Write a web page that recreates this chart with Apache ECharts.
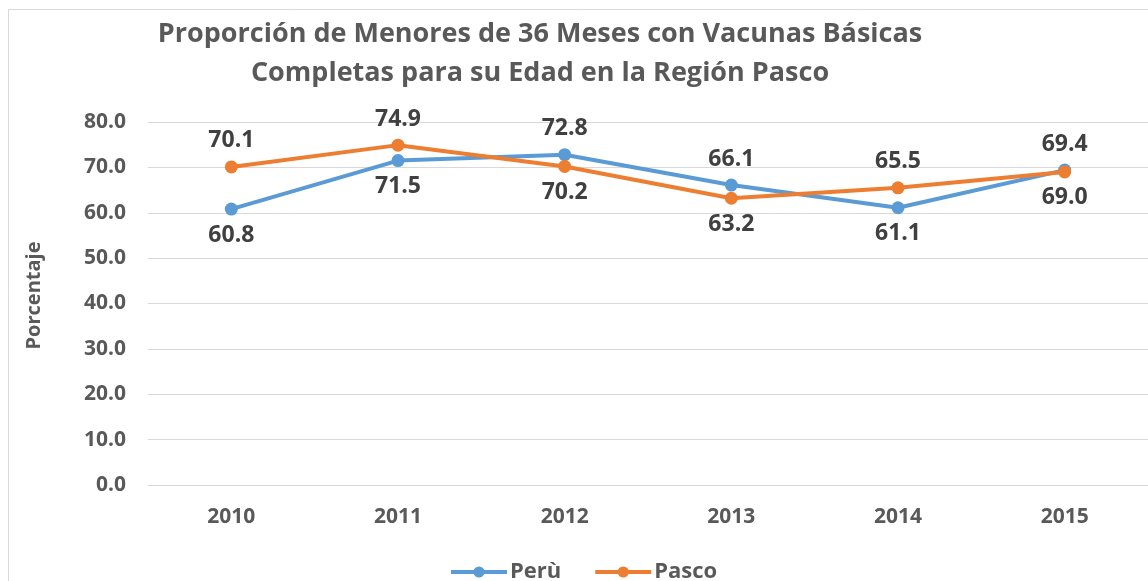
<!DOCTYPE html>
<html>
<head>
<meta charset="utf-8">
<script src="https://cdn.jsdelivr.net/npm/echarts@6/dist/echarts.min.js"></script>
<style>
  html, body { margin: 0; padding: 0; background: #fff; }
  #chart { width: 1148px; height: 581px; }
</style>
</head>
<body>
<div id="chart"></div>
<script>
// datos
var years = ['2010', '2011', '2012', '2013', '2014', '2015'];
var peru = [60.8, 71.5, 72.8, 66.1, 61.1, 69.4];
var pasco = [70.1, 74.9, 70.2, 63.2, 65.5, 69.0];

var FONT = '"Open Sans", Lato, sans-serif';

/** etiqueta arriba si la serie esta por encima de la otra */
function withLabels(values, other) {
    var out = [];
    for (var i = 0; i < values.length; i++) {
        out.push({
            value: values[i],
            label: { position: values[i] >= other[i] ? 'top' : 'bottom' }
        });
    }
    return out;
}

function makeSeries(name, color, values, other) {
    return {
        name: name,
        type: 'line',
        data: withLabels(values, other),
        symbol: 'circle',
        symbolSize: 13,
        lineStyle: { width: 4, color: color },
        itemStyle: { color: color },
        label: {
            show: true,
            distance: 8,
            color: '#404040',
            fontFamily: FONT,
            fontWeight: 'bold',
            fontSize: 23,
            formatter: function (p) { return p.value.toFixed(1); }
        }
    };
}

var myChart = echarts.init(document.getElementById('chart'));
var option = {
    animation: false,
    textStyle: { fontFamily: FONT },
    graphic: [{
        type: 'rect',
        shape: { x: 8.5, y: 9.5, width: 1170, height: 600 },
        style: { fill: 'none', stroke: '#d9d9d9', lineWidth: 1 },
        silent: true
    }],
    title: {
        text: 'Proporción de Menores de 36 Meses con Vacunas Básicas\nCompletas para su Edad en la Región Pasco',
        left: 535,
        top: 10,
        textAlign: 'center',
        textStyle: {
            color: '#595959',
            fontFamily: FONT,
            fontWeight: 'bold',
            fontSize: 27,
            lineHeight: 39
        }
    },
    legend: {
        bottom: -7,
        left: 444,
        itemWidth: 56,
        itemHeight: 14,
        itemGap: 32,
        data: ['Perù', 'Pasco'],
        lineStyle: { width: 4 },
        textStyle: {
            color: '#595959',
            fontFamily: FONT,
            fontWeight: 'bold',
            fontSize: 22,
            padding: [0, 0, 0, -2]
        }
    },
    grid: {
        left: 148,
        top: 122,
        width: 1003,
        height: 363,
        containLabel: false
    },
    xAxis: {
        type: 'category',
        data: years,
        boundaryGap: true,
        axisLine: { show: true, lineStyle: { color: '#d9d9d9', width: 1 } },
        axisTick: { show: false },
        axisLabel: {
            color: '#595959',
            fontFamily: FONT,
            fontWeight: 'bold',
            fontSize: 21,
            margin: 22
        }
    },
    yAxis: {
        type: 'value',
        min: 0,
        max: 80,
        interval: 10,
        name: 'Porcentaje',
        nameLocation: 'middle',
        nameGap: 104,
        nameTextStyle: {
            color: '#595959',
            fontFamily: FONT,
            fontWeight: 'bold',
            fontSize: 20,
            padding: [0, 0, 0, 16]
        },
        axisLine: { show: false },
        axisTick: { show: false },
        splitLine: { lineStyle: { color: '#d9d9d9', width: 1 } },
        axisLabel: {
            color: '#595959',
            fontFamily: FONT,
            fontWeight: 'bold',
            fontSize: 21,
            margin: 22,
            formatter: function (v) { return v.toFixed(1); }
        }
    },
    series: [
        makeSeries('Perù', '#5b9bd5', peru, pasco),
        makeSeries('Pasco', '#ed7d31', pasco, peru)
    ]
};
myChart.setOption(option);
</script>
</body>
</html>
